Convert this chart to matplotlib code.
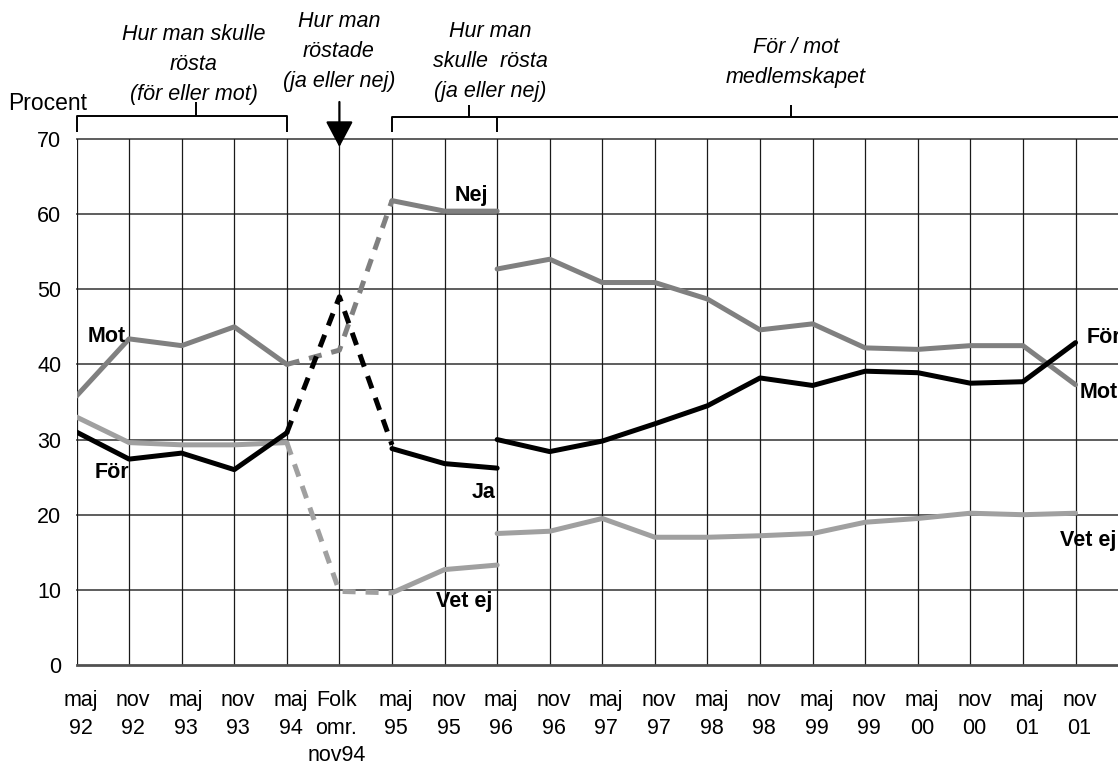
import matplotlib
matplotlib.use("Agg")
import matplotlib.pyplot as plt
from matplotlib.transforms import ScaledTranslation

plt.rcParams['font.family'] = ['Liberation Sans', 'DejaVu Sans']

# ---------------- data ----------------
tick_labels = ["maj\n92", "nov\n92", "maj\n93", "nov\n93", "maj\n94", "Folk\nomr.\nnov94",
               "maj\n95", "nov\n95", "maj\n96", "nov\n96", "maj\n97", "nov\n97",
               "maj\n98", "nov\n98", "maj\n99", "nov\n99", "maj\n00", "nov\n00",
               "maj\n01", "nov\n01"]

# Period 1: "för eller mot" (maj 92 - maj 94)
x_p1 = [0, 1, 2, 3, 4]
for_p1 = [31.0, 27.4, 28.2, 26.0, 30.9]
mot_p1 = [35.8, 43.4, 42.5, 45.0, 40.0]
vetej_p1 = [33.0, 29.6, 29.3, 29.3, 29.6]

# Referendum link (dashed): maj 94 - Folkomröstning - maj 95
x_ref = [4, 5, 6]
ja_ref = [30.9, 49.0, 29.3]
nej_ref = [40.0, 41.9, 61.8]
vetej_ref = [29.6, 9.8, 9.6]

# Period 2: "ja eller nej" (maj 95 - maj 96)
x_p2 = [6, 7, 8]
ja_p2 = [28.8, 26.8, 26.2]
nej_p2 = [61.8, 60.4, 60.4]
vetej_p2 = [9.6, 12.7, 13.3]

# Period 3: "för / mot medlemskapet" (maj 96 - nov 01)
x_p3 = list(range(8, 20))
for_p3 = [30.0, 28.4, 29.8, 32.1, 34.5, 38.2, 37.2, 39.1, 38.9, 37.5, 37.7, 42.9]
mot_p3 = [52.7, 54.0, 50.9, 50.9, 48.7, 44.6, 45.4, 42.2, 42.0, 42.5, 42.5, 37.3]
vetej_p3 = [17.5, 17.8, 19.5, 17.0, 17.0, 17.2, 17.5, 19.0, 19.5, 20.2, 20.0, 20.2]

# ---------------- figure ----------------
W, H = 1118, 765
fig = plt.figure(figsize=(W / 100, H / 100), dpi=100)
left_px, right_px, top_px, bot_px = 76.5, 1118, 139, 665
ax = fig.add_axes([left_px / W, (H - bot_px) / H, (right_px - left_px) / W, (bot_px - top_px) / H])
step = 52.58
ax.set_xlim(0, (right_px - left_px) / step)
ax.set_ylim(0, 70)

def px_x(px):
    return (px - left_px) / step

def px_y(py):
    return (bot_px - py) / ((bot_px - top_px) / 70)

for s in ax.spines.values():
    s.set_visible(False)

FS = 15.5

# grid
ax.set_yticks(range(0, 71, 10))
ax.set_xticks(range(20))
for y in range(10, 71, 10):
    ax.axhline(y, color='#505050', lw=1.3, zorder=1, clip_on=False)
for x in range(20):
    ax.axvline(x, color='#1a1a1a', lw=0.9, zorder=1)
ax.axhline(0, color='#505050', lw=2.0, zorder=1, clip_on=False)

ax.tick_params(axis='both', length=0, labelsize=FS)
ax.tick_params(axis='y', pad=11)
ax.tick_params(axis='x', pad=18)
ax.set_xticklabels(tick_labels, linespacing=1.42)
for i, lab in enumerate(ax.get_xticklabels()):
    dx = -3 if i == 5 else 4
    lab.set_transform(lab.get_transform() + ScaledTranslation(dx / 100, 0, fig.dpi_scale_trans))

# lines
c_mot = '#808080'
c_vet = '#a0a0a0'
c_for = '#000000'
lw = 3.6
solid = dict(lw=lw, solid_joinstyle='round', solid_capstyle='round', zorder=3)
dashed = dict(lw=lw, dashes=(2.6, 2.0), dash_capstyle='butt', zorder=3)

ax.plot(x_p1, vetej_p1, color=c_vet, **solid)
ax.plot(x_p1, mot_p1, color=c_mot, **solid)
ax.plot(x_p1, for_p1, color=c_for, **solid)

ax.plot(x_ref, vetej_ref, color=c_vet, **dashed)
ax.plot(x_ref, nej_ref, color=c_mot, **dashed)
ax.plot(x_ref, ja_ref, color=c_for, **dashed)

ax.plot(x_p2, vetej_p2, color=c_vet, **solid)
ax.plot(x_p2, nej_p2, color=c_mot, **solid)
ax.plot(x_p2, ja_p2, color=c_for, **solid)

ax.plot(x_p3, vetej_p3, color=c_vet, **solid)
ax.plot(x_p3, mot_p3, color=c_mot, **solid)
ax.plot(x_p3, for_p3, color=c_for, **solid)

# series labels
lab_kw = dict(fontsize=FS, fontweight='bold', ha='left', va='baseline', zorder=5, clip_on=False)
ax.text(px_x(88), px_y(341.7), "Mot", **lab_kw)
ax.text(px_x(95), px_y(478), "För", **lab_kw)
ax.text(px_x(455), px_y(200.7), "Nej", **lab_kw)
ax.text(px_x(472), px_y(497.7), "Ja", **lab_kw)
ax.text(px_x(436), px_y(607), "Vet ej", **lab_kw)
ax.text(px_x(1087), px_y(343.3), "För", **lab_kw)
ax.text(px_x(1080), px_y(398.3), "Mot", **lab_kw)
ax.text(px_x(1060), px_y(546), "Vet ej", **lab_kw)

# header annotations
it_kw = dict(fontsize=FS, fontstyle='italic', ha='center', va='baseline', clip_on=False)
for txt, py in [("Hur man skulle", 40), ("rösta", 70), ("(för eller mot)", 100)]:
    ax.text(px_x(194), px_y(py), txt, **it_kw)
for txt, py in [("Hur man", 27), ("röstade", 57), ("(ja eller nej)", 87)]:
    ax.text(px_x(339), px_y(py), txt, **it_kw)
for txt, py in [("Hur man", 37), ("skulle  rösta", 67), ("(ja eller nej)", 97)]:
    ax.text(px_x(490), px_y(py), txt, **it_kw)
for txt, py in [("För / mot", 53), ("medlemskapet", 83)]:
    ax.text(px_x(796), px_y(py), txt, **it_kw)
ax.text(px_x(8), px_y(110), "Procent", fontsize=16.5, ha='left', va='baseline', clip_on=False)

# brackets
br = dict(color='black', lw=1.4, clip_on=False, solid_capstyle='butt')
ax.plot([0, 0, 4, 4], [px_y(132), px_y(116), px_y(116), px_y(132)], **br)
ax.plot([px_x(196), px_x(196)], [px_y(116), px_y(102)], **br)
ax.plot([6, 6, px_x(1120)], [px_y(132), px_y(117), px_y(117)], **br)
ax.plot([8, 8], [px_y(117), px_y(132)], **br)
ax.plot([px_x(469), px_x(469)], [px_y(117), px_y(105)], **br)
ax.plot([px_x(791), px_x(791)], [px_y(117), px_y(105)], **br)

# arrow toward the referendum
ax.annotate("", xy=(5, px_y(147)), xytext=(5, px_y(102)),
            arrowprops=dict(arrowstyle='-|>,head_length=1.6,head_width=0.85',
                            color='black', lw=1.6, shrinkA=0, shrinkB=0),
            annotation_clip=False, zorder=6)

fig.savefig("out.png", dpi=100)
